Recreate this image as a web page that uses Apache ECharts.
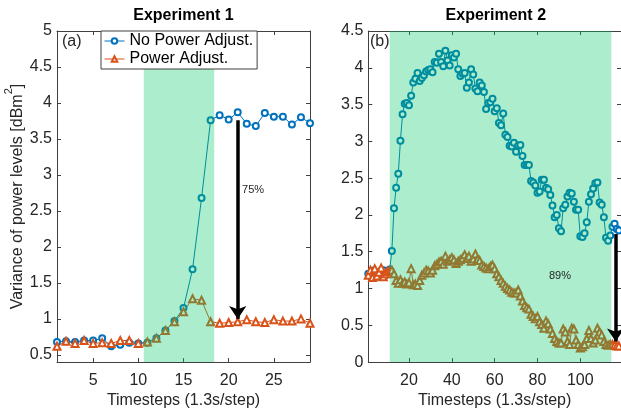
<!DOCTYPE html>
<html><head><meta charset="utf-8">
<script src="https://cdn.jsdelivr.net/npm/echarts@6/dist/echarts.min.js"></script>
<style>html,body{margin:0;padding:0;background:#fff}#c{width:621px;height:414px}</style>
</head><body><div id="c"></div>
<script>
const seriesNames = ['No Power Adjust.', 'Power Adjust.'];
const panelTitles = ['Experiment 1', 'Experiment 2'];
const panelTags = ['(a)', '(b)'];
const xTitle = 'Timesteps (1.3s/step)';
const yTitle = '{m|Variance of power levels [dBm}{sup|2}{m|]}';

// Experiment 1 (timesteps 1..29)
const exp1NoAdjust = [0.68,0.69,0.68,0.70,0.70,0.73,0.62,0.64,0.67,0.66,0.67,0.73,0.84,0.97,1.15,1.69,2.68,3.76,3.83,3.77,3.87,3.71,3.68,3.86,3.81,3.81,3.70,3.80,3.72];
const exp1Adjust   = [0.62,0.69,0.66,0.70,0.66,0.67,0.66,0.70,0.70,0.66,0.68,0.73,0.84,0.96,1.10,1.28,1.26,0.96,0.94,0.95,0.96,0.99,0.96,0.95,0.99,0.97,0.97,1.00,0.94];

// Experiment 2 (timesteps 1..118)
const exp2NoAdjust = [1.20,1.17,1.24,1.19,1.22,1.16,1.21,1.25,1.18,1.22,
  1.26,1.51,2.09,2.37,2.56,3.01,3.37,3.51,3.52,3.49,
  3.62,3.80,3.85,3.93,3.82,3.86,3.90,3.95,3.97,3.98,
  3.94,4.08,4.07,4.19,4.08,4.02,4.23,4.10,4.03,4.17,
  4.14,4.19,3.98,3.89,3.92,3.93,3.73,3.80,3.98,3.91,
  3.72,3.68,3.80,3.76,3.67,3.44,3.52,3.53,3.58,3.41,
  3.45,3.25,3.22,3.38,3.09,3.06,2.94,2.93,2.98,2.86,
  2.94,2.95,2.80,2.68,2.68,2.68,2.46,2.44,2.40,2.30,
  2.32,2.48,2.48,2.37,2.35,2.27,2.13,1.97,2.00,1.82,
  1.78,2.09,2.14,2.25,2.30,2.29,2.18,2.07,2.07,1.71,
  1.70,1.75,1.90,2.18,2.28,2.36,2.43,2.44,2.17,2.14,
  1.97,1.69,1.65,1.72,1.84,1.88,1.81,1.79];
const exp2Adjust = [1.18,1.25,1.15,1.27,1.17,1.22,1.28,1.16,1.20,1.23,
  1.24,1.25,1.20,1.11,1.07,1.12,1.07,1.09,1.06,1.08,
  1.27,1.05,1.06,1.04,1.11,1.18,1.21,1.25,1.24,1.21,
  1.25,1.31,1.33,1.36,1.37,1.33,1.44,1.37,1.39,1.42,
  1.39,1.34,1.37,1.39,1.41,1.46,1.41,1.44,1.37,1.40,
  1.47,1.40,1.38,1.32,1.30,1.28,1.27,1.30,1.32,1.27,
  1.20,1.16,1.11,1.07,1.03,1.00,0.98,0.95,0.94,0.94,
  0.98,0.90,0.83,0.77,0.74,0.72,0.65,0.62,0.59,0.62,
  0.55,0.51,0.46,0.56,0.52,0.45,0.39,0.32,0.28,0.26,
  0.26,0.45,0.41,0.28,0.24,0.46,0.45,0.30,0.24,0.19,
  0.21,0.24,0.32,0.43,0.32,0.26,0.30,0.46,0.41,0.37,
  0.28,0.24,0.23,0.24,0.24,0.23,0.22,0.22];

const exp1XTicks = [5,10,15,20,25];
const exp1YTicks = [0.5,1,1.5,2,2.5,3,3.5,4,4.5,5];
const exp2XTicks = [20,40,60,80,100];
const exp2YTicks = [0,0.5,1,1.5,2,2.5,3,3.5,4,4.5];
const exp1XRange = [1, 29];
const exp1YRange = [0.4, 5];
const exp2XRange = [1, 119];
const exp2YRange = [0, 4.5];

const exp1Shade = [10.6, 18.4];
const exp2Shade = [11, 114.5];
const exp1Arrow = [21, 3.76, 1.0];      // x, from, to
const exp2Arrow = [116.5, 1.74, 0.28];
const exp1Note = ['75%', 22.7, 2.79];
const exp2Note = ['89%', 90.5, 1.17];

const FONT = "'Liberation Sans', Arial, Helvetica, sans-serif";
const AX = '#404040';
const TXT = '#262626';
const BLUE = '#0072BD';
const ORANGE = '#D95319';
const SHADE = 'rgba(0,200,100,0.33)';

const pts = arr => arr.map((v, i) => [i + 1, v]);

function xAxes(g, range, ticks) {
  const base = {
    type: 'value', gridIndex: g, min: range[0], max: range[1],
    splitLine: {show: false},
    axisLine: {show: true, onZero: false, lineStyle: {color: AX, width: 1}},
    axisTick: {show: true, inside: true, length: 4, customValues: ticks, lineStyle: {color: AX}},
  };
  return [
    Object.assign({}, base, {
      position: 'bottom',
      axisLabel: {customValues: ticks, color: TXT, fontSize: 16, margin: 10, fontFamily: FONT},
      name: xTitle, nameLocation: 'middle', nameGap: 27,
      nameTextStyle: {color: TXT, fontSize: 16, fontFamily: FONT}
    }),
    Object.assign({}, base, {position: 'top', axisLabel: {show: false}})
  ];
}
function yAxes(g, range, ticks, withName) {
  const base = {
    type: 'value', gridIndex: g, min: range[0], max: range[1],
    splitLine: {show: false},
    axisLine: {show: true, onZero: false, lineStyle: {color: AX, width: 1}},
    axisTick: {show: true, inside: true, length: 4, customValues: ticks, lineStyle: {color: AX}},
  };
  const left = Object.assign({}, base, {
    position: 'left',
    axisLabel: {customValues: ticks, color: TXT, fontSize: 16, margin: 5, fontFamily: FONT}
  });
  if (withName) {
    Object.assign(left, {
      name: yTitle, nameLocation: 'middle', nameGap: 30,
      nameTextStyle: {color: TXT, fontSize: 16, fontFamily: FONT,
        rich: {
          m: {fontSize: 16, lineHeight: 22, verticalAlign: 'bottom', color: TXT, fontFamily: FONT},
          sup: {fontSize: 11, lineHeight: 11, verticalAlign: 'top', color: TXT, fontFamily: FONT}
        }}
    });
  }
  return [left, Object.assign({}, base, {position: 'right', axisLabel: {show: false}})];
}

function lineSeries(name, data, g, symbol, color) {
  return {
    type: 'line', name: name, data: pts(data),
    xAxisIndex: g * 2, yAxisIndex: g * 2,
    symbol: symbol, symbolSize: symbol === 'emptyTriangle' ? 7 : 6,
    showAllSymbol: true,
    lineStyle: {color: color, width: 1},
    itemStyle: {color: color, borderColor: color, borderWidth: 1},
    emphasis: {disabled: true}, z: 2
  };
}
function overlaySeries(g, shade, arrow, note) {
  return {
    type: 'line', name: 'overlay' + g, data: [],
    xAxisIndex: g * 2, yAxisIndex: g * 2,
    markArea: {silent: true, z: 3, label: {show: false},
      itemStyle: {color: SHADE, borderWidth: 0},
      data: [[{xAxis: shade[0]}, {xAxis: shade[1]}]]},
    markLine: {silent: true, z: 6, symbol: ['none', 'arrow'], symbolSize: 13,
      label: {show: false},
      lineStyle: {color: '#000', width: 3.5, type: 'solid'},
      data: [[{coord: [arrow[0], arrow[1]]}, {coord: [arrow[0], arrow[2]]}]]},
    markPoint: {silent: true, z: 6, symbol: 'circle', symbolSize: 1,
      itemStyle: {color: 'rgba(0,0,0,0)'},
      label: {show: true, position: 'inside', formatter: note[0], color: TXT, fontSize: 11, fontFamily: FONT},
      data: [{coord: [note[1], note[2]]}]}
  };
}

const chart = echarts.init(document.getElementById('c'), null, {renderer: 'canvas'});
chart.setOption({
  animation: false,
  backgroundColor: '#fff',
  grid: [
    {left: 57, top: 31, width: 253, height: 340},
    {left: 368.3, top: 31, width: 253.1, height: 340}
  ],
  xAxis: [...xAxes(0, exp1XRange, exp1XTicks), ...xAxes(1, exp2XRange, exp2XTicks)],
  yAxis: [...yAxes(0, exp1YRange, exp1YTicks, true), ...yAxes(1, exp2YRange, exp2YTicks, false)],
  legend: {
    left: 101, top: 31, orient: 'vertical', data: seriesNames,
    backgroundColor: '#fff', borderColor: AX, borderWidth: 1,
    padding: [1, 4, 1, 3], itemGap: 0, itemWidth: 20, itemHeight: 7,
    selectedMode: false,
    lineStyle: {width: 1},
    itemStyle: {borderWidth: 1},
    textStyle: {fontSize: 16, color: '#000', fontFamily: FONT, lineHeight: 18}
  },
  graphic: [
    {type: 'text', x: 183.5, y: 16, style: {text: panelTitles[0], font: "bold 16px " + FONT, fill: '#000', textAlign: 'center', textVerticalAlign: 'middle'}},
    {type: 'text', x: 495.8, y: 16, style: {text: panelTitles[1], font: "bold 16px " + FONT, fill: '#000', textAlign: 'center', textVerticalAlign: 'middle'}},
    {type: 'text', x: 62, y: 42, style: {text: panelTags[0], font: "16px " + FONT, fill: TXT, textAlign: 'left', textVerticalAlign: 'middle'}},
    {type: 'text', x: 370, y: 42, z: 10, style: {text: panelTags[1], font: "16px " + FONT, fill: TXT, textAlign: 'left', textVerticalAlign: 'middle'}}
  ],
  series: [
    lineSeries(seriesNames[0], exp1NoAdjust, 0, 'emptyCircle', BLUE),
    lineSeries(seriesNames[1], exp1Adjust, 0, 'emptyTriangle', ORANGE),
    overlaySeries(0, exp1Shade, exp1Arrow, exp1Note),
    lineSeries(seriesNames[0], exp2NoAdjust, 1, 'emptyCircle', BLUE),
    lineSeries(seriesNames[1], exp2Adjust, 1, 'emptyTriangle', ORANGE),
    overlaySeries(1, exp2Shade, exp2Arrow, exp2Note)
  ]
});
</script></body></html>
